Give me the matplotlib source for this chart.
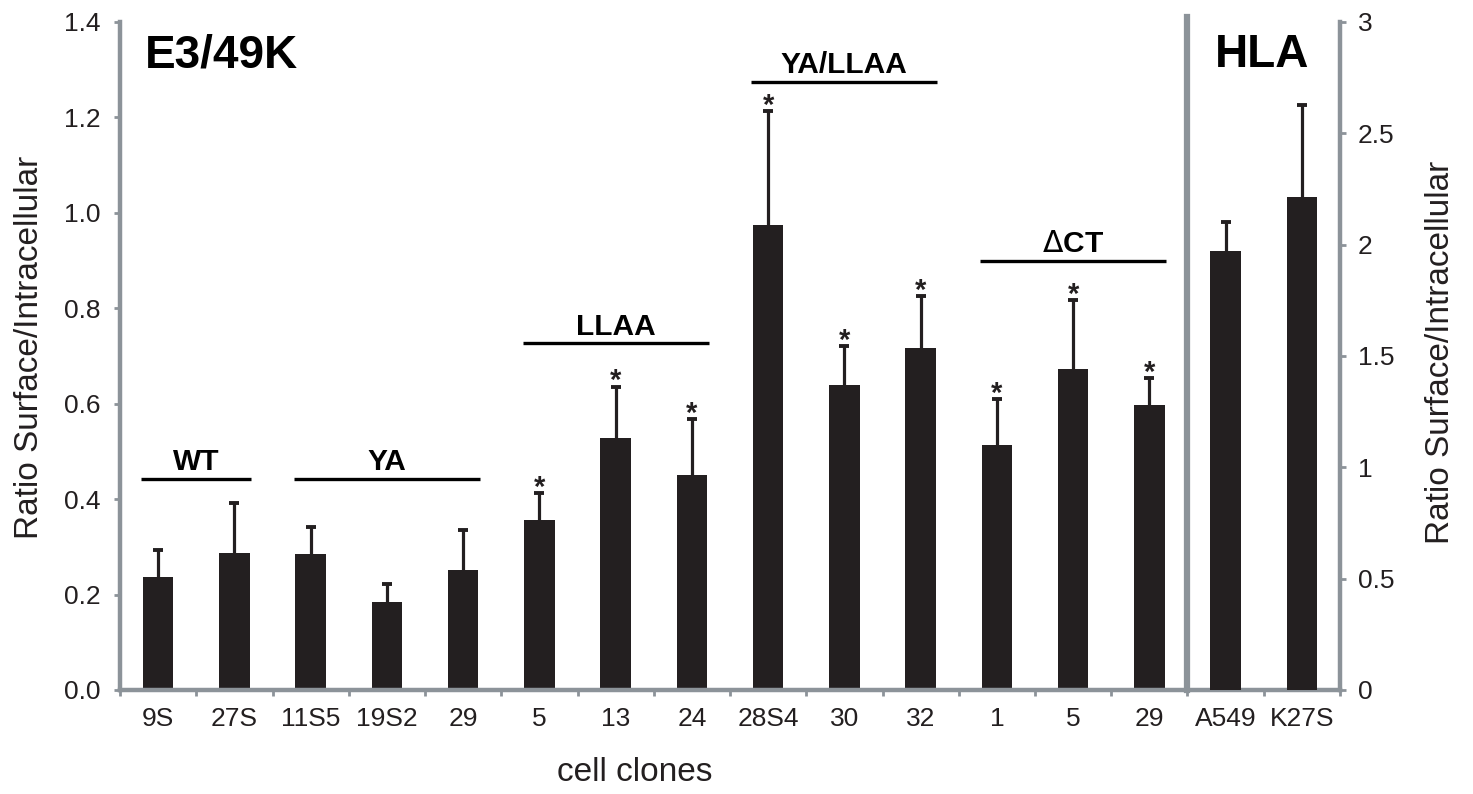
import matplotlib
matplotlib.use("Agg")
import matplotlib.pyplot as plt
import numpy as np

plt.rcParams['font.family'] = ['Liberation Sans', 'DejaVu Sans']

# E3/49K clones (left axis)
clones = ['9S', '27S', '11S5', '19S2', '29', '5', '13', '24',
          '28S4', '30', '32', '1', '5', '29']
ratio = [0.237, 0.288, 0.286, 0.185, 0.252, 0.357, 0.528, 0.450,
         0.975, 0.639, 0.716, 0.514, 0.672, 0.598]
err = [0.056, 0.104, 0.056, 0.037, 0.083, 0.056, 0.108, 0.118,
       0.239, 0.082, 0.109, 0.095, 0.146, 0.055]
signif = [False, False, False, False, False, True, True, True,
          True, True, True, True, True, True]

# HLA controls (right axis)
hla_clones = ['A549', 'K27S']
hla_ratio = [1.971, 2.216]
hla_err = [0.13, 0.41]

# groups of clones: name, first index, last index, height of bracket line
group_names = ['WT', 'YA', 'LLAA', 'YA/LLAA', r'$\Delta$CT']
group_first = [0, 2, 5, 8, 11]
group_last = [1, 4, 7, 10, 13]
group_y = [0.443, 0.443, 0.727, 1.275, 0.90]

bar_col = '#231f20'
gray = '#8c9399'

fig = plt.figure(figsize=(14.73, 7.94), dpi=100)
ax = fig.add_axes([0.0815, 0.131, 0.8282, 0.8413])
ax2 = ax.twinx()

x = np.arange(len(clones))
xh = np.arange(len(clones), len(clones) + len(hla_clones))


def up_errorbar(a, xs, ys, es):
    # upper error bar only, the lower cap is hidden
    eb = a.errorbar(xs, ys, yerr=[np.zeros(len(es)), es], fmt='none', ecolor=bar_col,
                    elinewidth=2.3, capsize=3.8, capthick=2.8, zorder=3)
    for cap in eb[1]:
        if np.allclose(cap.get_ydata(), ys):
            cap.set_visible(False)


ax.bar(x, ratio, width=0.4, color=bar_col, zorder=2)
up_errorbar(ax, x, ratio, err)
ax2.bar(xh, hla_ratio, width=0.4, color=bar_col, zorder=2)
up_errorbar(ax2, xh, hla_ratio, hla_err)

# significance stars
for i in range(len(clones)):
    if signif[i]:
        ax.annotate('*', (x[i], ratio[i] + err[i]), xytext=(0, -2),
                    textcoords='offset points', ha='center', va='baseline',
                    fontsize=21, fontweight='bold', color=bar_col)

# group brackets
for name, a, b, yy in zip(group_names, group_first, group_last, group_y):
    ax.plot([a - 0.22, b + 0.22], [yy, yy], color='black', lw=2.4,
            solid_capstyle='butt', zorder=3)
    ax.annotate(name, ((a + b) / 2, yy), xytext=(0, 6), textcoords='offset points',
                ha='center', va='baseline', fontsize=21.5, fontweight='bold')

ax.set_xlim(-0.5, len(clones) + len(hla_clones) - 0.5)
ax.set_ylim(0, 1.4)
ax2.set_ylim(0, 3)

ax.set_yticks(np.arange(0, 1.41, 0.2))
ax.set_yticklabels(['%.1f' % v for v in np.arange(0, 1.41, 0.2)])
ax2.set_yticks([0, 0.5, 1, 1.5, 2, 2.5, 3])
ax2.set_yticklabels(['0', '0.5', '1', '1.5', '2', '2.5', '3'])

ax.set_xticks(np.arange(-0.5, len(clones) + len(hla_clones), 1.0))
ax.set_xticklabels([])
ax.set_xticks(np.arange(len(clones) + len(hla_clones)), minor=True)
ax.set_xticklabels(clones + hla_clones, minor=True)

ax.tick_params(axis='y', direction='out', length=4, width=2, color=gray,
               labelsize=19, pad=10, labelcolor='#231f20')
ax2.tick_params(axis='y', direction='out', length=4, width=2, color=gray,
                labelsize=19, pad=9, labelcolor='#231f20')
ax.tick_params(axis='x', which='major', direction='out', length=4, width=2, color=gray)
ax.tick_params(axis='x', which='minor', length=0, labelsize=19, pad=12,
               labelcolor='#231f20')

for s in ['top', 'right']:
    ax.spines[s].set_visible(False)
for s in ['top', 'left', 'bottom']:
    ax2.spines[s].set_visible(False)
for s in ['left', 'bottom']:
    ax.spines[s].set_color(gray)
    ax.spines[s].set_linewidth(3.2)
ax2.spines['right'].set_color(gray)
ax2.spines['right'].set_linewidth(3.2)

# divider between E3/49K and HLA panels
ax.axvline(len(clones) - 0.5, ymin=0, ymax=1.008, color=gray, lw=4.5,
           clip_on=False, zorder=1)

ax.text(0.0205, 0.9326, 'E3/49K', transform=ax.transAxes, fontsize=33,
        fontweight='bold', va='baseline', ha='left')
ax.text(0.8975, 0.9326, 'HLA', transform=ax.transAxes, fontsize=33,
        fontweight='bold', va='baseline', ha='left')

ax.set_ylabel('Ratio Surface/Intracellular', fontsize=24, color='#231f20')
ax.yaxis.set_label_coords(-0.0615, 0.513)
ax2.set_ylabel('Ratio Surface/Intracellular', fontsize=24, color='#231f20')
ax2.yaxis.set_label_coords(1.0697, 0.505)
ax.set_xlabel('cell clones', fontsize=24, color='#231f20')
ax.xaxis.set_label_coords(0.422, -0.1003)

fig.savefig('out.png', dpi=100)
